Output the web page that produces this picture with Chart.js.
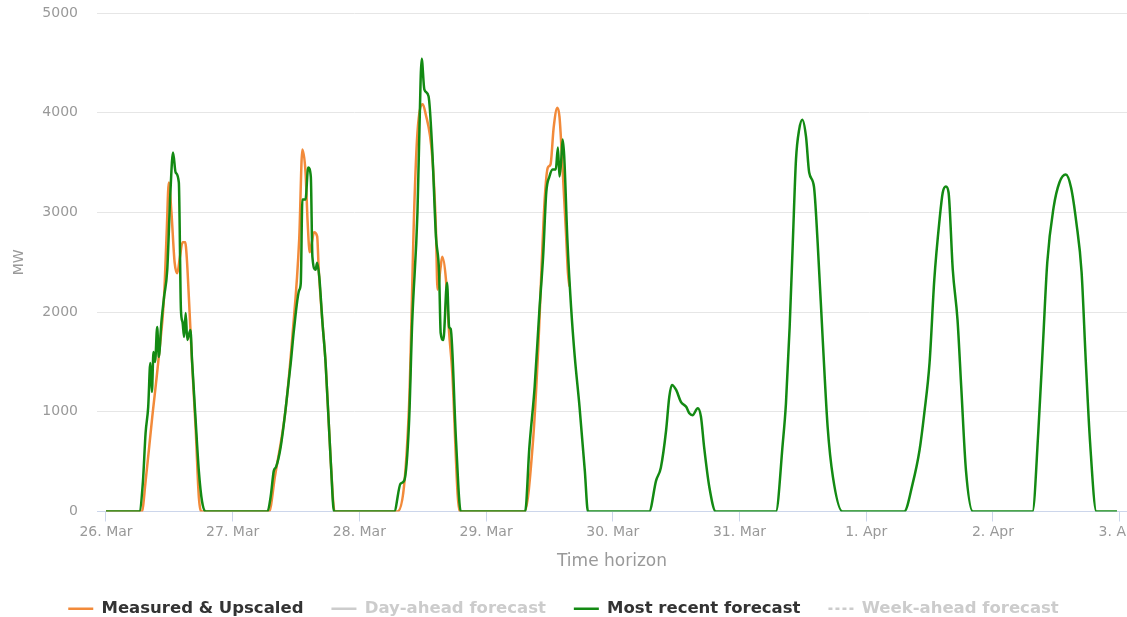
<!DOCTYPE html>
<html>
<head>
<meta charset="utf-8">
<script src="https://cdn.jsdelivr.net/npm/chart.js@4.4.0/dist/chart.umd.min.js"></script>
<style>
  html, body { margin: 0; padding: 0; background: #fff; overflow: hidden; }
  #wrap { position: relative; width: 1127px; height: 627px; }
</style>
</head>
<body>
<div id="wrap"><canvas id="grafico"></canvas></div>
<script>
const dayLabels = ["26. Mar", "27. Mar", "28. Mar", "29. Mar", "30. Mar", "31. Mar", "1. Apr", "2. Apr", "3. Apr"];
const dayTicks = [0, 24, 48, 72, 96, 120, 144, 168, 192];

// hours since 26 Mar 00:00
const measuredHours = [
  0, 6.8, 7.5, 8.7, 10.0, 11.0, 11.5, 11.9, 12.4, 13.0, 13.5, 14.0, 14.5, 15.0, 15.3, 15.7, 16.3, 17.0, 17.6, 18.2,
  30.9, 32.0, 34.0, 35.3, 36.6, 37.2, 37.8, 38.2, 38.6, 39.0, 39.4, 40.0, 40.3, 41.0, 41.6, 42.6, 43.3,
  55.2, 57.4, 58.4, 59.0, 60.0, 60.5, 61.8, 62.5, 62.8, 63.4, 63.7, 64.4, 65.0, 65.6, 66.6, 67.0,
  79.3, 80.9, 81.8, 83.1, 83.7, 84.2, 84.8, 85.5, 85.9, 86.5, 87.1, 87.5, 87.8
];
const measuredMW = [
  0, 0, 300, 915, 1550, 2150, 2800, 3300, 3000, 2500, 2390, 2550, 2700, 2700, 2550, 2150, 1500, 815, 140, 0,
  0, 350, 1015, 1750, 2730, 3630, 3400, 2900, 2600, 2700, 2800, 2760, 2425, 1900, 1490, 480, 0,
  0, 1050, 3060, 3800, 4085, 4000, 3560, 2830, 2225, 2455, 2555, 2325, 1790, 1390, 180, 0,
  0, 715, 1550, 3130, 3450, 3480, 3850, 4050, 3960, 3430, 2830, 2395, 2255
];

const recentHours = [
  0, 6.3, 7.0, 7.5, 8.0, 8.4, 8.7, 9.0, 9.3, 9.7, 10.0, 10.5, 11.0, 11.6, 12.2, 12.7, 13.2, 13.8, 14.2, 14.5, 14.8, 15.1, 15.4, 16.0, 16.3, 17.0, 17.6, 18.2, 18.9,
  30.6, 31.2, 31.8, 32.2, 33.1, 34.0, 35.0, 35.6, 36.6, 36.9, 37.2, 37.8, 38.3, 38.8, 39.1, 39.7, 40.0, 40.4, 41.0, 41.6, 42.6, 43.2,
  54.6, 55.8, 56.5, 57.4, 58.0, 59.0, 59.3, 59.8, 60.3, 61.1, 61.8, 62.5, 63.1, 63.4, 63.9, 64.6, 65.0, 65.3, 66.3, 67.2,
  79.4, 80.2, 81.2, 82.1, 82.8, 83.4, 84.0, 84.6, 85.2, 85.6, 85.9, 86.2, 86.5, 86.8, 87.4, 88.1, 88.8, 89.7, 90.7, 91.3,
  102.9, 104.2, 105.1, 106.1, 106.7, 107.2, 108.0, 108.9, 109.9, 110.5, 111.1, 112.1, 112.7, 113.3, 114.3, 115.5,
  126.9, 128.2, 128.8, 129.5, 130.1, 130.7, 131.3, 131.9, 132.6, 133.2, 134.1, 134.8, 135.8, 136.7, 137.7, 139.5,
  151.2, 152.8, 154.1, 155.0, 156.0, 156.9, 157.9, 158.5, 159.1, 159.6, 160.4, 161.3, 162.0, 162.9, 164.2,
  175.5, 176.6, 177.5, 178.3, 179.5, 180.6, 181.8, 182.8, 183.8, 184.8, 185.6, 186.4, 187.6, 191.5
];
const recentMW = [
  0, 0, 300, 785, 1050, 1490, 1200, 1600, 1500, 1850, 1550, 1900, 2150, 2420, 3200, 3600, 3400, 3300, 2020, 1900, 1750, 1990, 1720, 1820, 1520, 900, 400, 100, 0,
  0, 150, 410, 445, 650, 1015, 1490, 1820, 2220, 2290, 3130, 3130, 3450, 3360, 2555, 2425, 2495, 2355, 1900, 1490, 480, 0,
  0, 280, 310, 885, 1890, 3000, 3660, 4540, 4235, 4165, 3630, 2760, 2395, 1790, 1720, 2295, 1850, 1830, 715, 0,
  0, 645, 1250, 2020, 2555, 3200, 3360, 3430, 3430, 3650, 3360, 3500, 3730, 3560, 2725, 2050, 1550, 1050, 410, 0,
  0, 310, 440, 815, 1150, 1270, 1220, 1100, 1050, 985, 965, 1035, 950, 645, 240, 0,
  0, 685, 1085, 1850, 2700, 3530, 3830, 3930, 3760, 3400, 3260, 2700, 1690, 845, 345, 0,
  0, 280, 615, 985, 1490, 2325, 2930, 3200, 3260, 3200, 2425, 1920, 1250, 410, 0,
  0, 800, 1700, 2500, 3050, 3300, 3380, 3250, 2900, 2400, 1500, 700, 0, 0
];

const dayAheadMW = [];
const weekAheadMW = [];

const pares = (hs, vs) => hs.map((h, i) => ({ x: h, y: vs[i] }));

const fonte = "DejaVu Sans";
const grafico = document.getElementById("grafico").getContext("2d");

new Chart(grafico, {
  type: "line",
  data: {
    datasets: [
      {
        label: "Measured & Upscaled",
        data: pares(measuredHours, measuredMW),
        borderColor: "#f28a3a",
        borderWidth: 2.5,
        order: 1
      },
      {
        label: "Day-ahead forecast",
        data: dayAheadMW,
        borderColor: "#bdbdbd",
        borderWidth: 2,
        hidden: true,
        order: 2
      },
      {
        label: "Most recent forecast",
        data: pares(recentHours, recentMW),
        borderColor: "#138a13",
        borderWidth: 2.5,
        order: 0
      },
      {
        label: "Week-ahead forecast",
        data: weekAheadMW,
        borderColor: "#bdbdbd",
        borderWidth: 2,
        borderDash: [4, 3],
        hidden: true,
        order: 3
      }
    ]
  },
  options: {
    responsive: true,
    maintainAspectRatio: false,
    animation: false,
    layout: { padding: { top: 13, left: 0, right: 0, bottom: 0 } },
    elements: {
      point: { radius: 0 },
      line: { cubicInterpolationMode: "monotone", fill: false }
    },
    scales: {
      x: {
        type: "linear",
        min: -1.7,
        max: 193.4,
        afterBuildTicks: s => { s.ticks = dayTicks.map(v => ({ value: v })); },
        afterFit: s => { s.paddingLeft = 0; s.paddingRight = 0; s.height = 61; },
        ticks: {
          callback: (v, i) => dayLabels[i],
          color: "#999",
          font: { family: fonte, size: 14 },
          padding: 2,
          maxRotation: 0,
          autoSkip: false
        },
        grid: { drawOnChartArea: false, color: "#ccd6eb", tickLength: 10 },
        border: { color: "#ccd6eb" },
        title: {
          display: true,
          text: "Time horizon",
          color: "#999",
          font: { family: fonte, size: 17 },
          padding: { top: 1, bottom: 1 }
        }
      },
      y: {
        min: 0,
        max: 5000,
        afterFit: s => { s.width = 97; s.paddingTop = 0; s.paddingBottom = 0; },
        ticks: {
          stepSize: 1000,
          callback: v => String(v),
          color: "#999",
          font: { family: fonte, size: 14 },
          padding: 19
        },
        grid: { color: "#e6e6e6", drawTicks: false },
        border: { display: false },
        title: {
          display: true,
          text: "MW",
          color: "#999",
          font: { family: fonte, size: 14 },
          padding: { top: 11, bottom: 0 }
        }
      }
    },
    plugins: {
      tooltip: { enabled: false },
      legend: {
        position: "bottom",
        labels: {
          usePointStyle: true,
          pointStyleWidth: 25,
          padding: 28,
          font: { family: fonte, size: 16.5, weight: "bold" },
          generateLabels: chart => chart.data.datasets.map((ds, i) => ({
            text: ds.label,
            fillStyle: ds.hidden ? "#cccccc" : ds.borderColor,
            strokeStyle: ds.hidden ? "#cccccc" : ds.borderColor,
            lineWidth: 2.5,
            lineDash: ds.borderDash || [],
            pointStyle: "line",
            hidden: false,
            fontColor: ds.hidden ? "#cccccc" : "#333333",
            datasetIndex: i
          }))
        }
      }
    }
  }
});
</script>
</body>
</html>
